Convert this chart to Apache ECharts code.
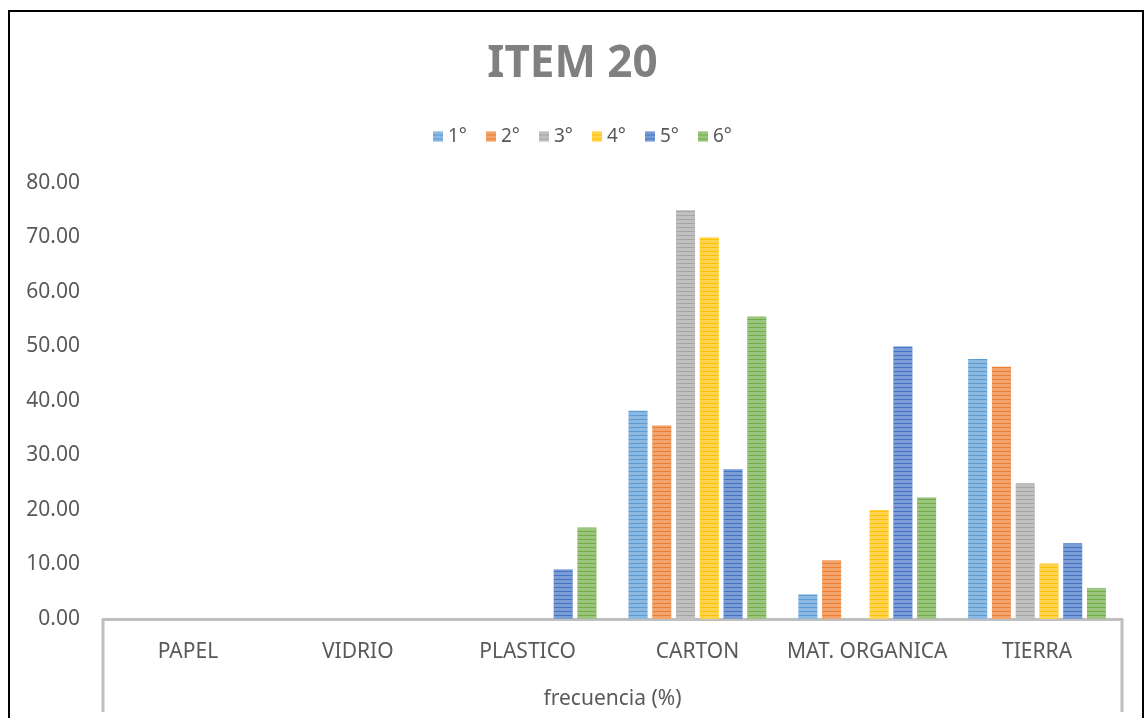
<!DOCTYPE html>
<html>
<head>
<meta charset="utf-8">
<script src="https://cdn.jsdelivr.net/npm/echarts@6/dist/echarts.min.js"></script>
<style>
html,body{margin:0;padding:0;background:#fff;}
#c{width:1145px;height:718px;}
</style>
</head>
<body>
<div id="c"></div>
<script>
const categories = ['PAPEL', 'VIDRIO', 'PLASTICO', 'CARTON', 'MAT. ORGANICA', 'TIERRA'];
const seriesNames = ['1°', '2°', '3°', '4°', '5°', '6°'];
const s1 = [0, 0, 0, 38.2, 4.5, 47.7];
const s2 = [0, 0, 0, 35.5, 10.8, 46.3];
const s3 = [0, 0, 0, 75.0, 0, 24.9];
const s4 = [0, 0, 0, 70.0, 20.0, 10.2];
const s5 = [0, 0, 9.1, 27.5, 50.0, 13.9];
const s6 = [0, 0, 16.8, 55.5, 22.3, 5.7];
const seriesData = [s1, s2, s3, s4, s5, s6];
const colors = ['#5B9BD5', '#ED7D31', '#A5A5A5', '#FFC000', '#4472C4', '#70AD47'];
const yMin = 0, yMax = 80, yStep = 10;

const FONT = 'Noto Sans';
const TXT = '#595959';
const GRID = {left: 103, right: 23, top: 183, bottom: 99, containLabel: false, outerBoundsMode: 'none'};

const chart = echarts.init(document.getElementById('c'), null, {renderer: 'canvas'});

const decal = {
  symbol: 'rect',
  symbolSize: 1,
  dashArrayX: [[4, 0]],
  dashArrayY: [3, 1],
  rotation: 0,
  color: 'rgba(255,255,255,0.3)'
};

chart.setOption({
  animation: false,
  backgroundColor: '#fff',
  color: colors,
  title: {
    text: 'ITEM 20',
    left: 'center',
    top: 37,
    textStyle: {fontFamily: FONT, fontSize: 44, fontWeight: 'bold', color: '#808080'}
  },
  legend: {
    data: seriesNames,
    icon: 'rect',
    left: 428,
    top: 122,
    itemWidth: 10,
    itemHeight: 10,
    itemGap: 19,
    textStyle: {fontFamily: FONT, fontSize: 19, color: TXT}
  },
  grid: GRID,
  xAxis: {
    type: 'category',
    data: categories,
    name: 'frecuencia (%)',
    nameLocation: 'middle',
    nameGap: 70,
    nameTextStyle: {fontFamily: FONT, fontSize: 21, color: TXT},
    axisLine: {lineStyle: {color: '#BFBFBF', width: 3}},
    axisTick: {show: false},
    axisLabel: {fontFamily: FONT, fontSize: 21, color: TXT, margin: 23, interval: 0}
  },
  yAxis: {
    type: 'value',
    min: yMin,
    max: yMax,
    interval: yStep,
    splitLine: {show: false},
    axisLine: {show: false},
    axisTick: {show: false},
    axisLabel: {
      fontFamily: FONT, fontSize: 21, color: TXT, margin: 23,
      formatter: v => v.toFixed(2)
    }
  },
  series: seriesData.map((d, i) => ({
    name: seriesNames[i],
    type: 'bar',
    data: d,
    barWidth: 19,
    barGap: '25%',
    itemStyle: {color: colors[i], decal: decal}
  }))
});

// frame lines derived from the grid
const W = 1145, H = 718;
const xl = GRID.left, xr = W - GRID.right, yAxisY = H - GRID.bottom;
chart.setOption({
  graphic: [
    {type: 'line', shape: {x1: xl, y1: yAxisY, x2: xl, y2: 712}, style: {stroke: '#BFBFBF', lineWidth: 3}},
    {type: 'line', shape: {x1: xr, y1: yAxisY, x2: xr, y2: 712}, style: {stroke: '#BFBFBF', lineWidth: 3}},
    {type: 'rect', shape: {x: 9, y: 11, width: 1134, height: 730}, style: {fill: 'none', stroke: '#000', lineWidth: 2}}
  ]
});
</script>
</body>
</html>
